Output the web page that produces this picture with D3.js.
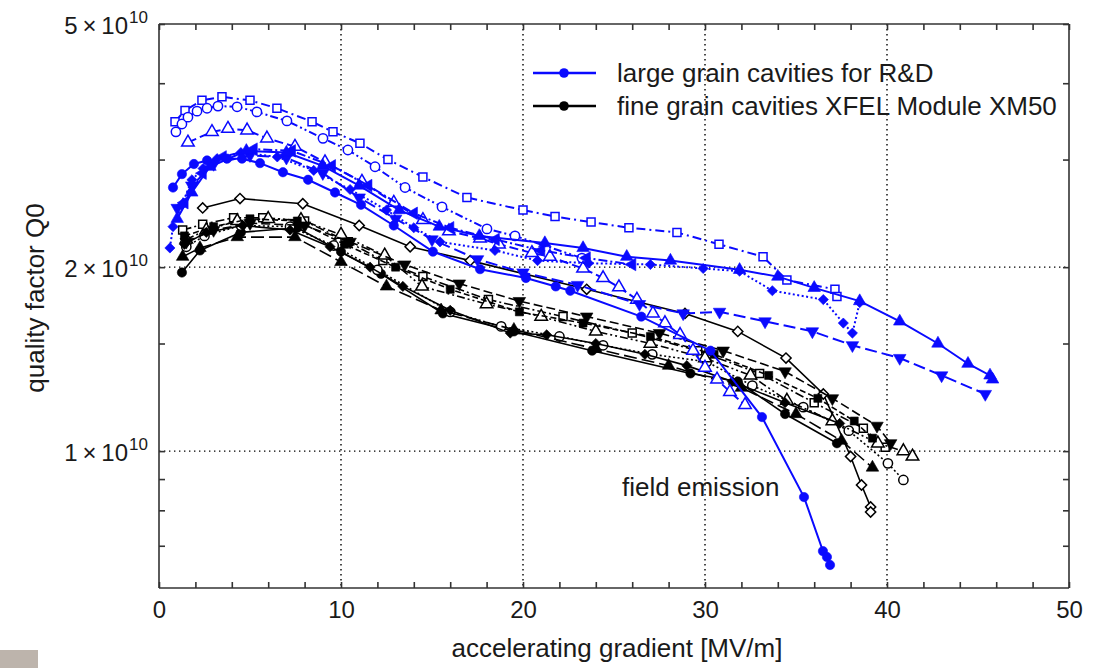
<!DOCTYPE html>
<html>
<head>
<meta charset="utf-8">
<script src="https://cdn.jsdelivr.net/npm/d3@7"></script>
<style>
  body { margin: 0; background: #fff; }
  svg { display: block; font-family: "Liberation Sans", Arial, Helvetica, sans-serif; }
</style>
</head>
<body>
<svg></svg>
<script>
// Q0 values are in units of 1e10, gradient in MV/m

// large grain cavities (blue)
const lgSquare = [[0.88,3.46],[1.43,3.61],[2.36,3.75],[3.46,3.80],[5.0,3.75],[6.48,3.64],[8.41,3.46],[9.56,3.33],[11.04,3.19],[12.58,3.0],[14.5,2.81],[16.92,2.60],[20.0,2.48],[21.76,2.42],[23.74,2.37],[25.82,2.32],[28.46,2.28],[30.77,2.18],[33.19,2.08],[34.5,1.905],[37.14,1.84],[37.25,1.79]];
const lgCircleOpen = [[0.93,3.33],[1.26,3.43],[1.59,3.52],[2.09,3.60],[2.64,3.64],[3.24,3.67],[4.29,3.66],[5.38,3.59],[7.03,3.47],[9.01,3.25],[10.38,3.11],[11.87,2.92],[13.52,2.70],[15.55,2.51],[18.02,2.31],[19.56,2.25],[23.24,2.07]];
const lgTriangleOpen = [[1.59,3.20],[2.91,3.33],[3.79,3.37],[4.84,3.35],[5.93,3.25],[7.47,3.15],[9.12,2.97],[11.15,2.76],[12.9,2.55],[14.5,2.39],[15.93,2.29],[17.64,2.23],[18.68,2.18],[20.49,2.11],[21.48,2.08],[23.3,1.99],[24.4,1.92],[25.27,1.855],[26.26,1.77],[27.14,1.68],[27.8,1.62],[28.63,1.55],[29.34,1.46],[30.0,1.37],[30.66,1.31],[31.37,1.25],[32.2,1.19]];
const lgCircleFilled = [[0.77,2.70],[1.26,2.84],[1.92,2.95],[2.64,2.99],[3.74,3.01],[4.56,3.01],[5.55,2.96],[6.81,2.86],[8.19,2.78],[9.67,2.65],[11.1,2.53],[12.9,2.34],[15.05,2.12],[17.64,1.985],[20.16,1.92],[21.8,1.86],[22.6,1.83],[26.5,1.66],[30.3,1.46],[33.13,1.137],[35.44,0.841],[36.48,0.686],[36.7,0.671],[36.87,0.651]];
const lgDiamond = [[0.6,2.15],[0.77,2.33],[1.26,2.53],[1.81,2.78],[2.42,2.9],[3.19,3.01],[4.5,3.08],[6.5,3.03],[8.5,2.88],[10.5,2.68],[12.5,2.48],[14.0,2.32],[15.44,2.20],[18.46,2.13],[20.8,2.05],[23.6,2.03],[27.0,2.02],[29.9,1.99],[31.9,1.97],[33.7,1.83],[36.5,1.77],[37.6,1.62],[38.1,1.56],[38.5,1.75]];
const lgTriUp = [[1.0,2.4],[1.8,2.65],[2.8,2.92],[4.8,3.1],[7.0,3.08],[9.0,2.93],[11.0,2.72],[13.2,2.48],[15.4,2.33],[17.6,2.25],[21.2,2.19],[23.3,2.15],[25.7,2.08],[28.1,2.05],[31.9,1.98],[34.0,1.93],[36.0,1.85],[38.5,1.76],[40.7,1.63],[42.8,1.50],[44.45,1.39],[45.66,1.33],[45.8,1.31]];
const lgTriDown = [[1.0,2.5],[1.8,2.72],[3.0,2.95],[5.0,3.05],[7.0,3.02],[9.0,2.85],[11.0,2.6],[13.0,2.4],[15.0,2.22],[17.5,2.06],[20.0,1.96],[23.0,1.87],[26.4,1.74],[28.8,1.68],[30.8,1.69],[33.3,1.63],[35.9,1.57],[38.1,1.49],[40.7,1.42],[43.0,1.33],[45.4,1.24]];
const lgTriLeft = [[1.4,2.55],[2.4,2.85],[3.5,3.03],[5.2,3.12],[7.3,3.1],[9.5,2.93],[11.5,2.72],[14.0,2.45],[16.0,2.32],[18.5,2.22],[21.0,2.13],[23.5,2.07],[26.0,2.02]];

// fine grain cavities XM50 (black)
const fgDiamondOpen = [[2.4,2.50],[4.45,2.59],[7.9,2.54],[11.0,2.34],[13.8,2.16],[17.1,2.05],[23.5,1.84],[28.9,1.68],[31.8,1.57],[34.45,1.42],[36.5,1.24],[38.0,0.98],[38.6,0.88],[39.1,0.81],[39.1,0.795]];
const fgSquareOpen = [[1.3,2.30],[2.4,2.35],[4.1,2.41],[5.7,2.41],[8.0,2.38],[10.4,2.2],[12.3,2.05],[14.5,1.93],[18.1,1.77],[22.2,1.66],[26.0,1.56],[29.6,1.46],[33.0,1.34],[36.0,1.2],[38.7,1.09],[39.9,1.015]];
const fgCircleFilled = [[1.26,1.96],[2.25,2.13],[4.5,2.28],[7.6,2.32],[10.0,2.12],[12.2,1.95],[15.6,1.68],[19.5,1.57],[23.8,1.46],[29.2,1.34],[31.8,1.30],[34.4,1.15],[37.25,1.03]];
const fgCircleOpen = [[1.5,2.16],[2.5,2.25],[4.5,2.34],[7.2,2.33],[9.6,2.17],[12.0,1.98],[16.0,1.69],[18.8,1.60],[22.0,1.54],[24.4,1.49],[27.1,1.44],[30.1,1.40],[32.6,1.28],[35.4,1.18],[37.9,1.08],[40.05,0.955],[40.9,0.897]];
const fgTriUpFilled = [[1.3,2.08],[2.25,2.15],[4.3,2.24],[7.47,2.24],[10.0,2.04],[12.5,1.86],[15.5,1.70],[19.5,1.58],[24.0,1.47],[28.0,1.38],[32.0,1.27],[35.0,1.15],[37.5,1.04],[39.2,0.94]];
const fgTriUpOpen = [[1.5,2.22],[2.6,2.30],[4.3,2.38],[6.0,2.40],[7.8,2.39],[10.0,2.26],[12.4,2.09],[14.45,1.86],[18.0,1.74],[21.0,1.66],[24.0,1.57],[27.0,1.50],[30.0,1.42],[32.5,1.33],[34.5,1.21],[37.0,1.12],[39.5,1.03],[40.9,1.0],[41.4,0.98]];
const fgTriDown = [[1.5,2.20],[3.0,2.30],[5.0,2.36],[8.0,2.34],[10.5,2.20],[13.5,2.02],[16.5,1.88],[19.8,1.76],[23.5,1.66],[27.5,1.56],[31.0,1.46],[34.4,1.35],[37.0,1.22],[39.45,1.10],[40.2,1.03]];
const fgDiamondFilled = [[1.4,2.18],[2.6,2.28],[4.6,2.34],[7.2,2.30],[9.4,2.16],[11.6,2.0],[13.4,1.86],[16.0,1.70],[19.3,1.56],[21.3,1.55],[24.0,1.50],[26.7,1.44],[29.0,1.38],[31.5,1.30],[34.4,1.20],[37.4,1.11]];
const fgSquareFilled = [[1.4,2.25],[3.0,2.33],[5.0,2.40],[7.6,2.38],[10.2,2.18],[13.0,2.0],[16.0,1.84],[19.8,1.69],[23.3,1.62],[27.0,1.54],[30.5,1.44],[33.5,1.33],[36.2,1.22],[38.2,1.12],[39.2,1.05]];

const gradientTicks = d3.range(0, 51, 2);
const gradientLabels = [0, 10, 20, 30, 40, 50];
const qTicks = [0.7, 0.8, 0.9, 1, 1.5, 2, 3, 4, 5];
const qLabels = [1, 2, 5];
const legendLabels = ["large grain cavities for R&D", "fine grain cavities XFEL Module XM50"];

const width = 1107, height = 668;
const blue = "#0a0aff", black = "#000";

const svg = d3.select("svg").attr("width", width).attr("height", height);

const x = d3.scaleLinear().domain([0, 50]).range([159, 1069]);
const y = d3.scaleLog().domain([0.597, 5]).range([588, 24]);

// grid
const grid = svg.append("g")
  .attr("stroke", "#000")
  .attr("stroke-width", 1.4)
  .attr("stroke-dasharray", "1.4,3.6");
grid.selectAll("line.v").data([10, 20, 30, 40]).join("line")
  .attr("x1", d => x(d)).attr("x2", d => x(d))
  .attr("y1", y(5)).attr("y2", y(0.597));
grid.selectAll("line.h").data([1, 2]).join("line")
  .attr("x1", x(0)).attr("x2", x(50))
  .attr("y1", d => y(d)).attr("y2", d => y(d));

// series drawing
const line = d3.line().x(d => x(d[0])).y(d => y(d[1]));

const shapes = {
  circle:   { type: d3.symbolCircle,   size: 68, rot: 0 },
  square:   { type: d3.symbolSquare,   size: 64, rot: 0 },
  triUp:    { type: d3.symbolTriangle, size: 68, rot: 0 },
  triDown:  { type: d3.symbolTriangle, size: 68, rot: 180 },
  triLeft:  { type: d3.symbolTriangle, size: 68, rot: -90 },
  diamond:  { type: d3.symbolSquare,   size: 52, rot: 45 }
};

function drawSeries(data, color, shape, open, dash, lw) {
  const g = svg.append("g");
  g.append("path")
    .attr("d", line(data))
    .attr("fill", "none")
    .attr("stroke", color)
    .attr("stroke-width", lw)
    .attr("stroke-dasharray", dash);
  const s = shapes[shape];
  g.selectAll("path.m").data(data).join("path")
    .attr("class", "m")
    .attr("d", d3.symbol(s.type, s.size))
    .attr("transform", d => `translate(${x(d[0])},${y(d[1])}) rotate(${s.rot})`)
    .attr("fill", open ? "#fff" : color)
    .attr("stroke", color)
    .attr("stroke-width", open ? 1.5 : 0.6);
}

// black first, blue on top
drawSeries(fgDiamondOpen,   black, "diamond", true,  null,          1.6);
drawSeries(fgSquareOpen,    black, "square",  true,  "9,3,2,3",     1.6);
drawSeries(fgCircleFilled,  black, "circle",  false, null,          1.6);
drawSeries(fgCircleOpen,    black, "circle",  true,  "2,2.5",       1.6);
drawSeries(fgTriUpFilled,   black, "triUp",   false, "13,5",        1.6);
drawSeries(fgTriUpOpen,     black, "triUp",   true,  "8,3,2,3,2,3", 1.6);
drawSeries(fgTriDown,       black, "triDown", false, "9,4",         1.6);
drawSeries(fgDiamondFilled, black, "diamond", false, null,          1.6);
drawSeries(fgSquareFilled,  black, "square",  false, "6,3",         1.6);

drawSeries(lgSquare,       blue, "square",  true,  "9,4,2,4",     2);
drawSeries(lgCircleOpen,   blue, "circle",  true,  "8,3,2,3,2,3", 2);
drawSeries(lgTriangleOpen, blue, "triUp",   true,  "9,4",         2);
drawSeries(lgTriLeft,      blue, "triLeft", false, "9,3,2,3",     2);
drawSeries(lgTriDown,      blue, "triDown", false, "12,5",        2);
drawSeries(lgDiamond,      blue, "diamond", false, "2,2.5",       2);
drawSeries(lgTriUp,        blue, "triUp",   false, null,          2);
drawSeries(lgCircleFilled, blue, "circle",  false, null,          2);

// frame & ticks
const axisColor = "#333";
const xb = svg.append("g").attr("transform", `translate(0,${y(0.597)})`)
  .call(d3.axisBottom(x).tickValues(gradientTicks).tickSize(-6).tickPadding(13)
    .tickFormat(d => gradientLabels.includes(d) ? d : ""));
const xt = svg.append("g").attr("transform", `translate(0,${y(5)})`)
  .call(d3.axisTop(x).tickValues(gradientTicks).tickSize(-6).tickFormat(""));
const yl = svg.append("g").attr("transform", `translate(${x(0)},0)`)
  .call(d3.axisLeft(y).tickValues(qTicks).tickSize(-6).tickFormat(""));
const yr = svg.append("g").attr("transform", `translate(${x(50)},0)`)
  .call(d3.axisRight(y).tickValues(qTicks).tickSize(-6).tickFormat(""));
[xb, xt, yl, yr].forEach(a => {
  a.select(".domain").attr("stroke", axisColor).attr("stroke-width", 1.6);
  a.selectAll(".tick line").attr("stroke", axisColor).attr("stroke-width", 1.6);
});
xb.selectAll(".tick text").attr("font-size", 24).attr("fill", "#1a1a1a")
  .attr("font-family", "Liberation Sans, Arial, sans-serif");
xt.select(".domain").attr("d", `M${x(0)},0H${x(50)}`);
xb.select(".domain").attr("d", `M${x(0)},0H${x(50)}`);
yl.select(".domain").attr("d", `M0,${y(0.597)}V${y(5)}`);
yr.select(".domain").attr("d", `M0,${y(0.597)}V${y(5)}`);

// y labels with exponent
const yLab = svg.append("g").attr("fill", "#1a1a1a");
qLabels.forEach(v => {
  yLab.append("text")
    .attr("x", 128).attr("y", y(v) + 10)
    .attr("text-anchor", "end")
    .attr("font-size", 24)
    .text(`${v}\u2009\u00d7\u200910`);
  yLab.append("text")
    .attr("x", 129).attr("y", y(v) - 1)
    .attr("font-size", 17)
    .text("10");
});

// axis titles
svg.append("text")
  .attr("x", 617).attr("y", 657)
  .attr("text-anchor", "middle")
  .attr("font-size", 26).attr("fill", "#1a1a1a")
  .text("accelerating gradient [MV/m]");
svg.append("text")
  .attr("transform", `translate(44,${(y(0.597) + y(5)) / 2 - 8}) rotate(-90)`)
  .attr("text-anchor", "middle")
  .attr("font-size", 26).attr("fill", "#1a1a1a")
  .text("quality factor Q0");

// annotation
svg.append("text")
  .attr("x", 622).attr("y", 496)
  .attr("font-size", 26).attr("fill", "#1a1a1a")
  .text("field emission");

// legend
const legendColors = [blue, black];
const lg = svg.append("g");
legendLabels.forEach((t, i) => {
  const ly = 73 + i * 33;
  lg.append("line").attr("x1", 533).attr("x2", 596).attr("y1", ly).attr("y2", ly)
    .attr("stroke", legendColors[i]).attr("stroke-width", 2.4);
  lg.append("circle").attr("cx", 564).attr("cy", ly).attr("r", 4.8)
    .attr("fill", legendColors[i]);
  lg.append("text").attr("x", 617).attr("y", ly + 9)
    .attr("font-size", 26).attr("fill", "#1a1a1a")
    .text(t);
});

// grey corner patch
svg.append("rect").attr("x", 0).attr("y", 650).attr("width", 38).attr("height", 18)
  .attr("fill", "#bdb4ac");
</script>
</body>
</html>
